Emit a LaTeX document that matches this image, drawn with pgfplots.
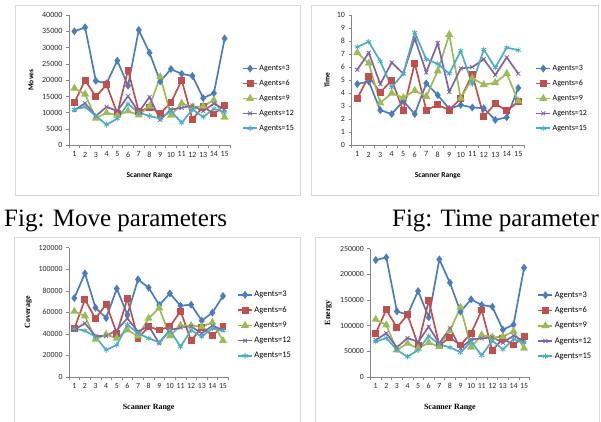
\documentclass[border=0pt]{standalone}
\usepackage{pgfplots}
\pgfplotsset{compat=1.18}
\usepackage{pgfplotstable}
\usepackage{fontspec}
\setmainfont{Carlito}
\newfontfamily\tnr{Liberation Serif}

\definecolor{cA}{HTML}{4A7EBB}
\definecolor{cB}{HTML}{C0504D}
\definecolor{cC}{HTML}{9BBB59}
\definecolor{cD}{HTML}{8064A2}
\definecolor{cE}{HTML}{4BACC6}
\definecolor{axgray}{HTML}{868686}
\definecolor{framegray}{HTML}{D9D9D9}

\pgfplotstableread{
x a3 a6 a9 a12 a15
1 35000 13100 17500 10800 11000
2 36200 20000 15700 12900 11800
3 19800 14900 8300 9000 9000
4 19000 18600 10000 11800 6300
5 26000 9800 9200 10500 8200
6 18300 23100 10500 15100 12700
7 35400 10300 9300 10200 10000
8 28400 11700 12000 14800 9000
9 19600 9800 21000 7800 8200
10 23400 13100 9200 11000 10500
11 21900 20000 12900 11500 6900
12 21300 8000 11700 12200 11000
13 14500 11900 12000 10500 8700
14 16000 9600 13900 12800 11200
15 32800 12300 8600 11000 10200
}\moves

\pgfplotstableread{
x a3 a6 a9 a12 a15
1 4.7 3.6 7.1 5.8 7.55
2 4.9 5.3 6.3 7.1 7.95
3 2.7 4.05 3.25 4.7 6.45
4 2.4 5.0 4.0 6.35 4.45
5 3.4 2.65 3.65 5.5 5.5
6 2.4 6.3 4.2 8.2 8.65
7 4.75 2.7 3.75 5.6 6.6
8 3.85 3.1 5.7 7.85 6.25
9 2.8 2.7 8.5 4.1 5.5
10 3.1 3.6 3.6 5.9 7.25
11 2.9 5.45 5.15 6.0 4.7
12 2.85 2.2 4.65 6.6 7.35
13 1.95 3.2 4.8 5.4 5.95
14 2.15 2.65 5.5 6.75 7.5
15 4.4 3.35 3.4 5.5 7.3
}\timetab

\pgfplotstableread{
x a3 a6 a9 a12 a15
1 73300 44800 60900 43900 44800
2 96200 71800 56600 49800 43000
3 64300 54100 35000 38000 37400
4 54700 67700 39600 38000 25100
5 82000 40500 35900 43600 29700
6 57800 72700 43600 54400 48600
7 90600 35900 38000 42100 40500
8 82900 46700 54400 47300 35900
9 66800 43600 64000 31200 32200
10 77600 46700 38000 43600 43600
11 66200 61200 47900 45800 28100
12 67100 33700 47600 47000 43600
13 52300 46100 46700 40500 37400
14 59700 38700 50700 47600 45200
15 75200 46700 33700 43600 43000
}\coverage

\pgfplotstableread{
x a3 a6 a9 a12 a15
1 227900 85100 112300 72100 68800
2 233100 131200 101300 85100 76000
3 127900 96100 52600 57800 52600
4 121400 121400 65600 76000 39600
5 167500 62300 55800 68200 52600
6 116200 148700 66900 98100 79900
7 229200 62000 59100 65600 63600
8 183800 76600 90000 95000 57800
9 127300 62300 135700 55800 48100
10 151300 85100 57800 73400 68800
11 140300 130500 81800 75300 42200
12 137000 51300 77300 77300 70800
13 92200 75300 78600 66900 53900
14 102000 62300 89000 80500 73400
15 213000 78600 55800 69500 66900
}\energy

\pgfplotsset{
  excel/.style={
    scale only axis,
    axis x line=bottom, axis y line=left,
    axis line style={-, draw=axgray, line width=0.6pt},
    xmin=0.5, xmax=15.5, ymin=0,
    xtick={1,...,15},
    minor xtick={0.5,1.5,...,15.5},
    major x tick style={draw=none},
    tick style={draw=axgray, line width=0.6pt},
    major tick length=3pt, minor tick length=3pt,
    tick align=outside,
    scaled y ticks=false,
    /pgf/number format/fixed,
    /pgf/number format/1000 sep={},
    /pgf/number format/assume math mode=true,
    tick label style={font=\fontsize{8}{9}\selectfont, text=black!85},
    legend style={draw=none, fill=none, anchor=west,
      font=\fontsize{8}{9}\selectfont, row sep=5.2pt, inner sep=0pt,
      nodes={inner sep=1.5pt}},
    legend cell align=left,
    legend image code/.code={\draw[##1, mark repeat=2, mark phase=2] plot coordinates {(0pt,0pt) (7pt,0pt) (14pt,0pt)};},
    every axis plot/.append style={line width=1.7pt},
  },
  sA/.style={color=cA, mark=diamond*, mark size=2.6pt, mark options={solid}},
  sB/.style={color=cB, mark=square*, mark size=2.6pt, mark options={solid}},
  sC/.style={color=cC, mark=triangle*, mark size=3pt, mark options={solid}},
  sD/.style={color=cD, mark=x, mark size=2.8pt, mark options={solid, line width=0.8pt}},
  sE/.style={color=cE, mark=asterisk, mark size=2.8pt, mark options={solid, line width=0.8pt}},
}

\newcommand\allplots[1]{%
  \addplot[sA] table[x=x,y=a3]{#1}; \addlegendentry{Agents=3}
  \addplot[sB] table[x=x,y=a6]{#1}; \addlegendentry{Agents=6}
  \addplot[sC] table[x=x,y=a9]{#1}; \addlegendentry{Agents=9}
  \addplot[sD] table[x=x,y=a12]{#1}; \addlegendentry{Agents=12}
  \addplot[sE] table[x=x,y=a15]{#1}; \addlegendentry{Agents=15}
}

\begin{document}
\begin{tikzpicture}
\useasboundingbox (0pt,0pt) rectangle (601pt,421pt);
\draw[framegray, line width=0.8pt] (15pt,226pt) rectangle (300pt,416pt);
\draw[framegray, line width=0.8pt] (311pt,226pt) rectangle (598pt,416pt);
\draw[framegray, line width=0.8pt] (14pt,-3pt) rectangle (300pt,184pt);
\draw[framegray, line width=0.8pt] (315pt,-3pt) rectangle (599pt,184pt);

\node[font=\tnr\fontsize{25}{27}\selectfont, anchor=base west, inner sep=0pt] at (4pt,195pt) {Fig: Move parameters};
\node[font=\tnr\fontsize{25}{27}\selectfont, anchor=base east, inner sep=0pt] at (599pt,195pt) {Fig: Time parameter};

% Moves
\begin{axis}[excel, at={(69pt,275.7pt)}, anchor=south west,
  width=161pt, height=130.3pt, ymax=40000, ytick={0,5000,...,40000},
  xlabel={Scanner Range}, ylabel={Moves},
  every axis x label/.style={at={(axis description cs:0.5,-0.236)}, anchor=center, font=\bfseries\fontsize{7.5}{9}\selectfont},
  every axis y label/.style={at={(axis description cs:-0.236,0.5)}, rotate=90, anchor=center, font=\bfseries\fontsize{7.5}{9}\selectfont},
  legend style={at={(1.075,0.36)}}]
\allplots{\moves}
\end{axis}

% Time
\begin{axis}[excel, at={(351.5pt,275.7pt)}, anchor=south west,
  width=172.5pt, height=130.3pt, ymax=10, ytick={0,1,...,10},
  xlabel={Scanner Range}, ylabel={Time},
  every axis x label/.style={at={(axis description cs:0.5,-0.236)}, anchor=center, font=\bfseries\fontsize{7.5}{9}\selectfont},
  every axis y label/.style={at={(axis description cs:-0.142,0.5)}, rotate=90, anchor=center, font=\bfseries\fontsize{7.5}{9}\selectfont},
  legend style={at={(1.065,0.36)}}]
\allplots{\timetab}
\end{axis}

% Coverage
\begin{axis}[excel, at={(69pt,44pt)}, anchor=south west,
  width=159.3pt, height=129.3pt, ymax=120000, ytick={0,20000,...,120000},
  xlabel={Scanner Range}, ylabel={Coverage},
  tick label style={font=\fontsize{7.8}{9}\selectfont},
  every axis x label/.style={at={(axis description cs:0.5,-0.237)}, anchor=center, font=\tnr\bfseries\fontsize{8}{9}\selectfont},
  every axis y label/.style={at={(axis description cs:-0.255,0.5)}, rotate=90, anchor=center, font=\tnr\bfseries\fontsize{8}{9}\selectfont},
  legend style={at={(1.055,0.4)}, font=\fontsize{8.5}{9}\selectfont}]
\allplots{\coverage}
\end{axis}

% Energy
\begin{axis}[excel, at={(370.4pt,44pt)}, anchor=south west,
  width=159pt, height=128.3pt, ymax=250000, ytick={0,50000,...,250000},
  xlabel={Scanner Range}, ylabel={Energy},
  tick label style={font=\fontsize{7.8}{9}\selectfont},
  every axis x label/.style={at={(axis description cs:0.5,-0.239)}, anchor=center, font=\tnr\bfseries\fontsize{8}{9}\selectfont},
  every axis y label/.style={at={(axis description cs:-0.265,0.5)}, rotate=90, anchor=center, font=\tnr\bfseries\fontsize{8}{9}\selectfont},
  legend style={at={(1.05,0.4)}, font=\fontsize{8.5}{9}\selectfont}]
\allplots{\energy}
\end{axis}
\end{tikzpicture}
\end{document}
